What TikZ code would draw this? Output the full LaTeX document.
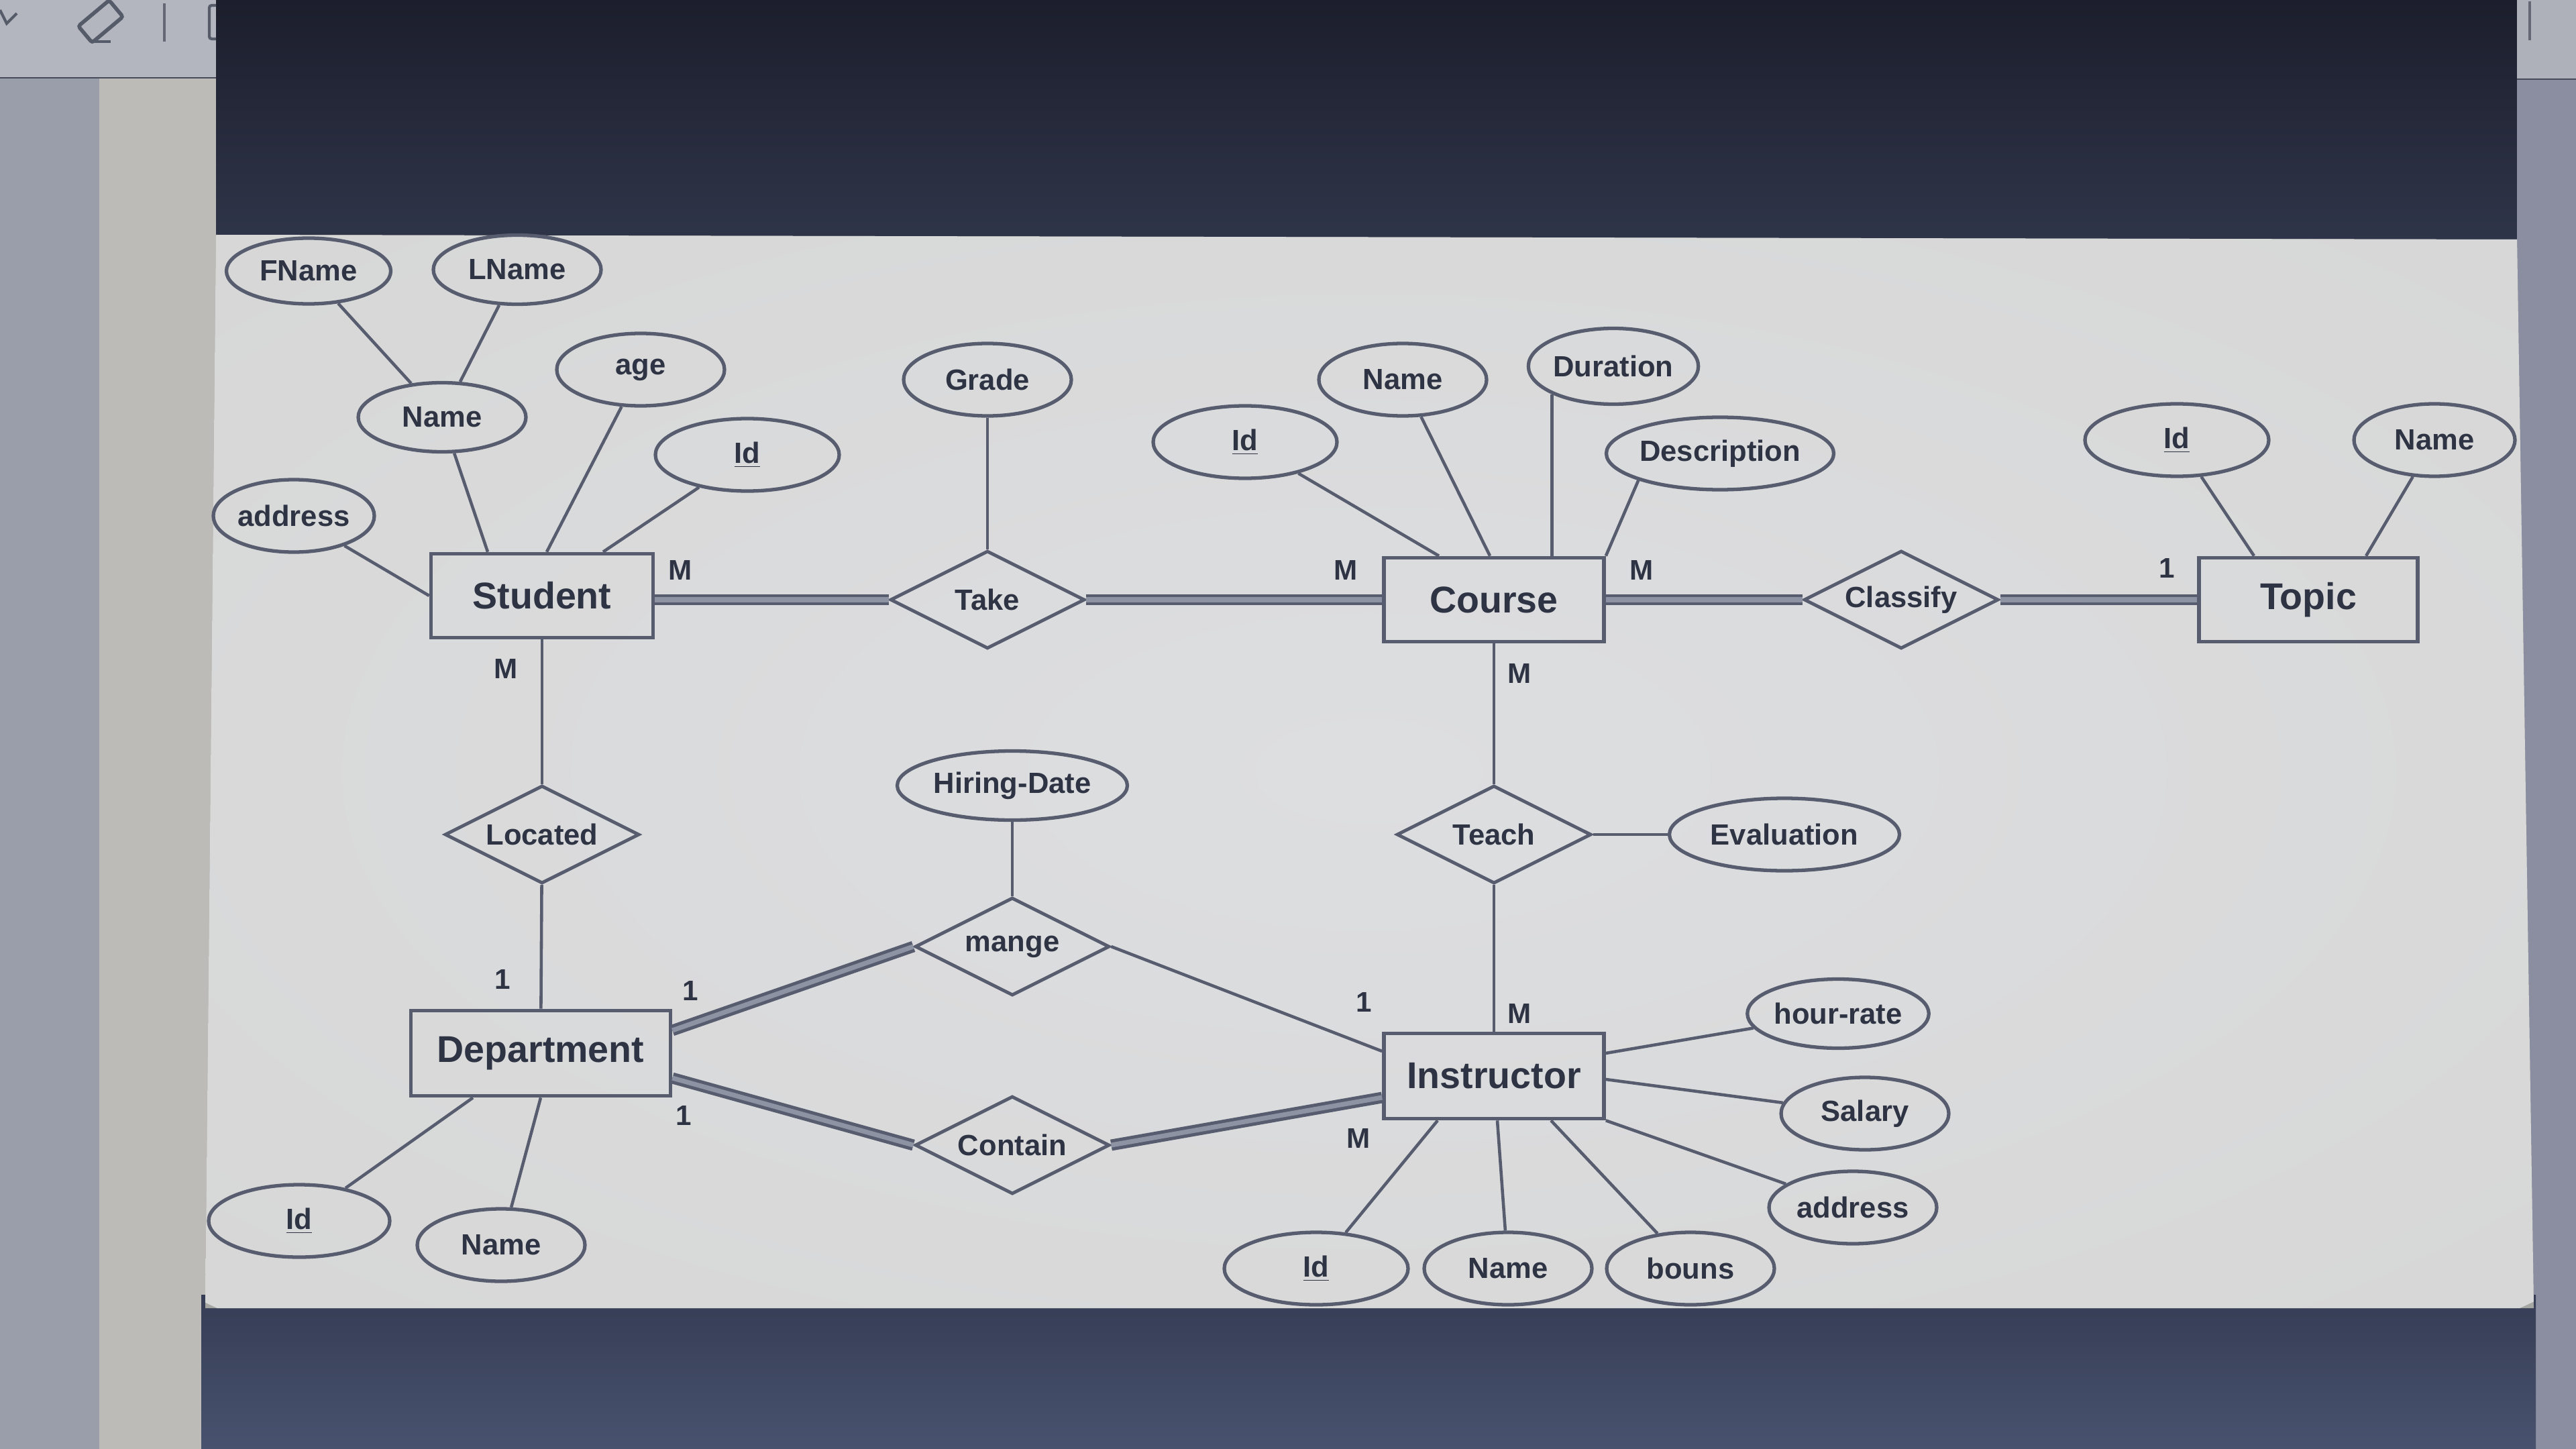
\documentclass[tikz,border=0pt]{standalone}
\usepackage{fontspec}
\setmainfont{Liberation Sans}
\usetikzlibrary{shapes.geometric,calc}
\definecolor{ln}{HTML}{575D6F}
\definecolor{txt}{HTML}{2E3444}
\definecolor{dbl}{HTML}{8E93A3}
\definecolor{topdarkA}{HTML}{1C1E2C}
\definecolor{topdarkB}{HTML}{2F3549}
\definecolor{botdarkA}{HTML}{363D55}
\definecolor{botdarkB}{HTML}{48526E}
\definecolor{toolbar}{HTML}{B4B6BF}
\definecolor{leftdark}{HTML}{9A9DAA}
\definecolor{leftlight}{HTML}{BDBBB7}
\definecolor{rightc}{HTML}{8A8EA0}
\definecolor{pageA}{HTML}{DDDEE0}
\definecolor{pageB}{HTML}{D6D6D6}
\definecolor{pageC}{HTML}{C4C4C0}
\definecolor{pageD}{HTML}{A6A6A2}
\pgfdeclareradialshading{vign}{\pgfpoint{0bp}{0bp}}{color(0bp)=(pageA); color(28bp)=(pageB); color(40bp)=(pageC); color(50bp)=(pageD)}
\begin{document}
\begin{tikzpicture}[x=1cm,y=1cm,
  ent/.style={draw=ln, line width=1.6pt, minimum height=1.25cm, inner sep=0pt,
    font=\fontsize{15.8}{19}\selectfont\bfseries, text=txt},
  att/.style={draw=ln, ellipse, line width=1.5pt, inner sep=0pt, minimum width=2.5cm,
    minimum height=1.08cm, font=\fontsize{12.4}{15}\selectfont\bfseries, text=txt},
  rel/.style={draw=ln, diamond, shape aspect=2.2, line width=1.4pt, inner sep=0pt, minimum width=2.9cm,
    minimum height=1.46cm, font=\fontsize{12.4}{15}\selectfont\bfseries, text=txt},
  con/.style={draw=ln, line width=1.3pt},
  dcon/.style={draw=ln, line width=1.4pt, double=dbl, double distance=2pt},
  card/.style={inner sep=0pt, font=\fontsize{12}{14}\selectfont\bfseries, text=txt}]
\useasboundingbox (0,0) rectangle (38.4,-21.6);
% ---- photo surroundings ----
\fill[leftdark] (0,0) rectangle (1.48,-21.6);
\fill[leftlight] (1.48,0) rectangle (3.3,-21.6);
\fill[toolbar] (0,0) rectangle (3.22,-1.16);
\draw[ln!80!black, line width=0.8pt] (0,-1.16) -- (3.22,-1.16);
\shade[top color=topdarkA, bottom color=topdarkB] (3.22,0) rectangle (37.52,-3.6);
\fill[rightc] (37.52,0) rectangle (38.4,-21.6);
\fill[toolbar!85!rightc] (37.52,0) rectangle (38.4,-1.18);
\draw[ln!80!black, line width=0.8pt] (37.52,-1.18) -- (38.4,-1.18);
\shade[top color=botdarkA, bottom color=botdarkB] (3.0,-19.3) rectangle (37.8,-21.6);
\begin{scope}
  \clip (3.22,-3.50) -- (37.52,-3.57) -- (37.77,-19.50) -- (3.06,-19.50) -- cycle;
  \fill[pageD] (3,-3.4) rectangle (37.9,-19.6);
  \shade[shading=vign] (20.4,-11.5) ellipse [x radius=24.3, y radius=11.3];
\end{scope}
% toolbar icons
\draw[txt!70!toolbar, line width=1.6pt, rotate around={40:(1.5,-0.32)}, rounded corners=1pt]
  (1.2,-0.48) rectangle (1.8,-0.16);
\draw[txt!70!toolbar, line width=1.4pt] (1.35,-0.62) -- (1.65,-0.62);
\draw[txt!70!toolbar, line width=1.2pt] (0,-0.15) -- (0.1,-0.35) -- (0.25,-0.2);
\draw[txt!60!toolbar, line width=1pt] (2.45,-0.05) -- (2.45,-0.62);
\draw[txt!70!toolbar, line width=1.2pt, rounded corners=1pt] (3.22,-0.08) -- (3.12,-0.08) -- (3.12,-0.58) -- (3.22,-0.58);
\draw[txt!60!toolbar, line width=1pt] (37.71,-0.02) -- (37.71,-0.6);
% ---- entities ----
\node[ent, minimum width=3.31cm] (Student) at (8.08,-8.88) {Student};
\node[ent, minimum width=3.28cm] (Course) at (22.27,-8.94) {Course};
\node[ent, minimum width=3.26cm] (Topic) at (34.41,-8.94) {Topic};
\node[ent, minimum width=3.87cm, minimum height=1.27cm] (Dept) at (8.06,-15.70) {Department};
\node[ent, minimum width=3.28cm, minimum height=1.27cm] (Instr) at (22.27,-16.04) {Instructor};
% ---- relationships ----
\node[rel] (Take) at (14.72,-8.94) {Take};
\node[rel] (Classify) at (28.34,-8.94) {Classify};
\node[rel] (Located) at (8.08,-12.44) {Located};
\node[rel] (Teach) at (22.27,-12.44) {Teach};
\node[rel] (mange) at (15.09,-14.11) {mange};
\node[rel] (Contain) at (15.09,-17.07) {Contain};
% ---- attributes ----
\node[att, minimum width=2.45cm, minimum height=0.98cm] (FName) at (4.60,-4.04) {FName};
\node[att, minimum height=1.03cm] (LName) at (7.71,-4.02) {LName};
\node[att, minimum height=1.03cm] (NameS) at (6.59,-6.22) {Name};
\node[att] (age) at (9.55,-5.51) {age};
\node[att, minimum width=2.74cm] (IdS) at (11.14,-6.78) {\underline{Id}};
\node[att, minimum width=2.4cm] (addrS) at (4.38,-7.69) {address};
\node[att] (Grade) at (14.72,-5.66) {Grade};
\node[att, minimum width=2.74cm] (IdC) at (18.56,-6.59) {\underline{Id}};
\node[att] (NameC) at (20.91,-5.66) {Name};
\node[att, minimum height=1.13cm] (Duration) at (24.05,-5.46) {Duration};
\node[att, minimum width=3.09cm] (Descr) at (25.64,-6.76) {Description};
\node[att, minimum width=2.74cm] (IdT) at (32.45,-6.56) {\underline{Id}};
\node[att, minimum width=2.4cm] (NameT) at (36.29,-6.56) {Name};
\node[att, minimum width=3.43cm, minimum height=1.03cm] (Hiring) at (15.09,-11.71) {Hiring-Date};
\node[att, minimum width=3.43cm] (Eval) at (26.60,-12.44) {Evaluation};
\node[att, minimum height=1.03cm] (hour) at (27.40,-15.11) {hour-rate};
\node[att] (Salary) at (27.80,-16.60) {Salary};
\node[att] (addrI) at (27.62,-18.00) {address};
\node[att] (bouns) at (25.20,-18.91) {bouns};
\node[att] (NameI) at (22.48,-18.91) {Name};
\node[att, minimum width=2.74cm] (IdI) at (19.62,-18.91) {\underline{Id}};
\node[att, minimum width=2.7cm] (IdD) at (4.46,-18.20) {\underline{Id}};
\node[att] (NameD) at (7.47,-18.56) {Name};
% ---- connectors ----
\draw[con] (FName) -- (NameS);
\draw[con] (LName) -- (NameS);
\draw[con] (NameS) -- ([xshift=-0.81cm]Student.north);
\draw[con] (age) -- ([xshift=0.07cm]Student.north);
\draw[con] (IdS) -- ([xshift=0.91cm]Student.north);
\draw[con] (addrS) -- (Student.west);
\draw[dcon] ([yshift=-0.06cm]Student.east) -- (Take.west);
\draw[dcon] (Take) -- (Course);
\draw[dcon] (Course) -- (Classify);
\draw[dcon] (Classify) -- (Topic);
\draw[con] (Grade) -- (Take);
\draw[con] (IdC) -- ([xshift=-0.82cm]Course.north);
\draw[con] (NameC) -- ([xshift=-0.06cm]Course.north);
\draw[con] (Duration.south west) -- (Duration.south west |- Course.north);
\draw[con] (Descr.south west) -- (Course.north east);
\draw[con] (IdT) -- ([xshift=-0.81cm]Topic.north);
\draw[con] (NameT) -- ([xshift=0.86cm]Topic.north);
\draw[con] (Student) -- (Located);
\draw[con] (Located) -- (Dept);
\draw[con] (Course) -- (Teach);
\draw[con] (Teach) -- (Instr);
\draw[con] (Teach) -- (Eval);
\draw[con] (Hiring) -- (mange);
\draw[dcon] (mange.west) -- ([yshift=0.34cm]Dept.east);
\draw[con] (mange.east) -- ([yshift=0.37cm]Instr.west);
\draw[dcon] (Contain.west) -- ([yshift=-0.37cm]Dept.east);
\draw[dcon] (Contain.east) -- ([yshift=-0.32cm]Instr.west);
\draw[con] (hour) -- ([yshift=0.34cm]Instr.east);
\draw[con] (Salary) -- ([yshift=-0.05cm]Instr.east);
\draw[con] (addrI) -- (Instr.south east);
\draw[con] (bouns) -- ([xshift=0.85cm]Instr.south);
\draw[con] (NameI) -- ([xshift=0.05cm]Instr.south);
\draw[con] (IdI) -- ([xshift=-0.84cm]Instr.south);
\draw[con] (IdD) -- ([xshift=-1.01cm]Dept.south);
\draw[con] (NameD) -- (Dept.south);
% ---- cardinalities ----
\node[card] (c1) at (10.14,-8.50) {M};
\node[card] (c2) at (7.54,-9.97) {M};
\node[card] (c3) at (20.06,-8.50) {M};
\node[card] (c4) at (24.47,-8.50) {M};
\node[card] (c5) at (22.65,-10.04) {M};
\node[card] (c6) at (32.30,-8.47) {1};
\node[card] (c7) at (7.49,-14.60) {1};
\node[card] (c8) at (10.29,-14.77) {1};
\node[card] (c9) at (10.19,-16.63) {1};
\node[card] (c10) at (20.33,-14.94) {1};
\node[card] (c11) at (22.65,-15.11) {M};
\node[card] (c12) at (20.25,-16.97) {M};
\end{tikzpicture}
\end{document}
